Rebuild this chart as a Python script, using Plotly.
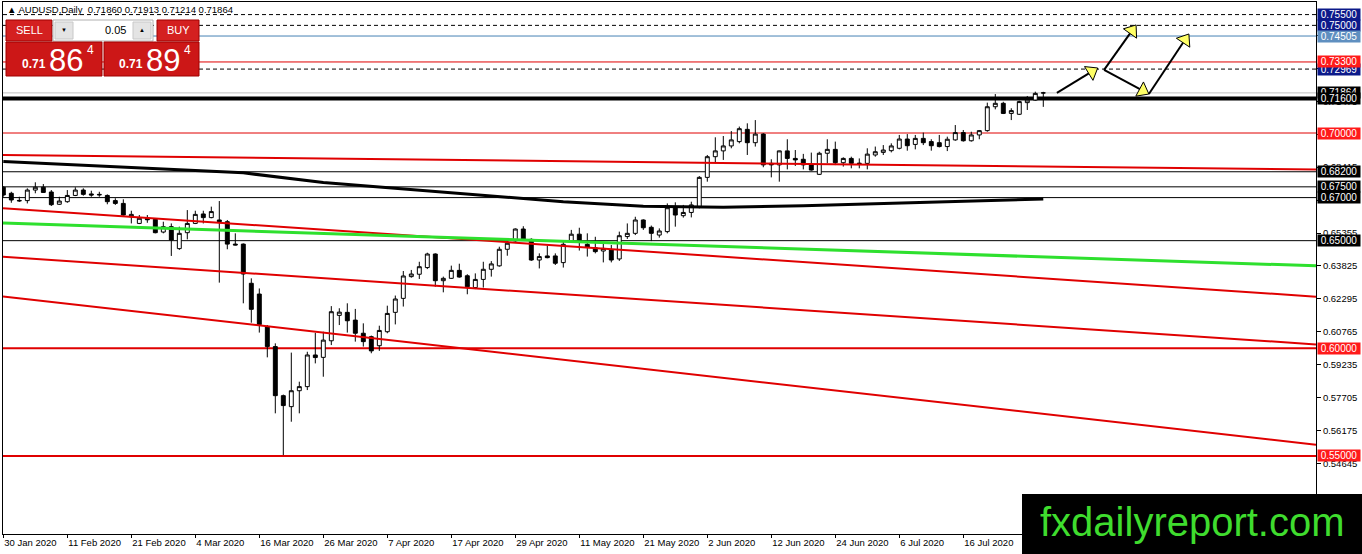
import math
import plotly.graph_objects as go

# AUDUSD daily candles, 30 Jan 2020 .. 30 Jul 2020
opens = [0.6748, 0.6720, 0.6687, 0.6686, 0.6735, 0.6748, 0.6726, 0.6669, 0.6681, 0.6710,
         0.6735, 0.6717, 0.6715, 0.6710, 0.6686, 0.6673, 0.6611, 0.6580, 0.6604, 0.6599,
         0.6540, 0.6565, 0.6463, 0.6537, 0.6580, 0.6624, 0.6607, 0.6596, 0.6588, 0.6484,
         0.6484, 0.6302, 0.6252, 0.6100, 0.6008, 0.5780, 0.5729, 0.5803, 0.5822, 0.5969,
         0.5958, 0.6035, 0.6153, 0.6167, 0.6131, 0.6070, 0.6054, 0.6012, 0.6077, 0.6167,
         0.6232, 0.6333, 0.6344, 0.6375, 0.6438, 0.6314, 0.6325, 0.6362, 0.6337, 0.6282,
         0.6320, 0.6367, 0.6383, 0.6460, 0.6499, 0.6554, 0.6506, 0.6410, 0.6429, 0.6429,
         0.6398, 0.6499, 0.6530, 0.6483, 0.6467, 0.6452, 0.6457, 0.6415, 0.6519, 0.6534,
         0.6596, 0.6562, 0.6526, 0.6542, 0.6658, 0.6616, 0.6631, 0.6655, 0.6794, 0.6890,
         0.6917, 0.6940, 0.6960, 0.7017, 0.6955, 0.6995, 0.6859, 0.6852, 0.6917, 0.6882,
         0.6878, 0.6852, 0.6808, 0.6906, 0.6924, 0.6862, 0.6882, 0.6860, 0.6859, 0.6898,
         0.6910, 0.6918, 0.6929, 0.6972, 0.6947, 0.6975, 0.6960, 0.6955, 0.6937, 0.6968,
         0.7002, 0.6964, 0.6991, 0.7011, 0.7122, 0.7138, 0.7091, 0.7087, 0.7141, 0.7153,
         0.7186]
highs = [0.6752, 0.6727, 0.6704, 0.6743, 0.6771, 0.6763, 0.6735, 0.6704, 0.6735, 0.6748,
         0.6743, 0.6732, 0.6727, 0.6715, 0.6697, 0.6692, 0.6639, 0.6619, 0.6619, 0.6604,
         0.6588, 0.6580, 0.6565, 0.6642, 0.6639, 0.6639, 0.6658, 0.6684, 0.6596, 0.6534,
         0.6487, 0.6325, 0.6278, 0.6108, 0.6023, 0.5785, 0.5980, 0.5845, 0.5984, 0.6072,
         0.6077, 0.6196, 0.6186, 0.6209, 0.6183, 0.6116, 0.6059, 0.6105, 0.6198, 0.6245,
         0.6359, 0.6364, 0.6402, 0.6444, 0.6441, 0.6333, 0.6384, 0.6393, 0.6344, 0.6348,
         0.6402, 0.6405, 0.6472, 0.6503, 0.6557, 0.6567, 0.6511, 0.6441, 0.6477, 0.6441,
         0.6503, 0.6550, 0.6560, 0.6534, 0.6518, 0.6488, 0.6480, 0.6542, 0.6580, 0.6611,
         0.6599, 0.6570, 0.6557, 0.6673, 0.6678, 0.6666, 0.6681, 0.6800, 0.6898, 0.6980,
         0.6986, 0.7009, 0.7030, 0.7045, 0.7060, 0.6999, 0.6878, 0.6918, 0.6971, 0.6921,
         0.6903, 0.6909, 0.6913, 0.6971, 0.6960, 0.6887, 0.6890, 0.6882, 0.6929, 0.6937,
         0.6944, 0.6952, 0.6991, 0.6995, 0.6991, 0.7002, 0.6971, 0.6991, 0.6983, 0.7037,
         0.7014, 0.7006, 0.7014, 0.7141, 0.7181, 0.7145, 0.7115, 0.7150, 0.7172, 0.7192,
         0.71913]
lows = [0.6704, 0.6676, 0.6680, 0.6673, 0.6720, 0.6723, 0.6661, 0.6666, 0.6676, 0.6707,
        0.6709, 0.6704, 0.6704, 0.6669, 0.6666, 0.6616, 0.6580, 0.6577, 0.6583, 0.6534,
        0.6534, 0.6429, 0.6457, 0.6506, 0.6577, 0.6580, 0.6604, 0.6305, 0.6460, 0.6478,
        0.6209, 0.6119, 0.6073, 0.5958, 0.5698, 0.5504, 0.5659, 0.5698, 0.5806, 0.5930,
        0.5868, 0.6015, 0.6108, 0.6073, 0.6031, 0.6008, 0.5977, 0.5988, 0.6070, 0.6111,
        0.6194, 0.6328, 0.6322, 0.6368, 0.6286, 0.6260, 0.6322, 0.6328, 0.6251, 0.6275,
        0.6282, 0.6333, 0.6379, 0.6430, 0.6495, 0.6500, 0.6406, 0.6371, 0.6418, 0.6387,
        0.6375, 0.6495, 0.6454, 0.6426, 0.6441, 0.6399, 0.6399, 0.6406, 0.6508, 0.6526,
        0.6550, 0.6498, 0.6514, 0.6534, 0.6565, 0.6607, 0.6608, 0.6650, 0.6774, 0.6859,
        0.6875, 0.6929, 0.6952, 0.6898, 0.6937, 0.6841, 0.6794, 0.6774, 0.6831, 0.6847,
        0.6831, 0.6825, 0.6805, 0.6859, 0.6851, 0.6844, 0.6836, 0.6836, 0.6831, 0.6890,
        0.6898, 0.6910, 0.6924, 0.6918, 0.6924, 0.6944, 0.6918, 0.6933, 0.6916, 0.6964,
        0.6960, 0.6960, 0.6971, 0.7006, 0.7110, 0.7088, 0.7060, 0.7084, 0.7107, 0.7150,
        0.71214]
closes = [0.6712, 0.6689, 0.6685, 0.6735, 0.6748, 0.6724, 0.6667, 0.6684, 0.6710, 0.6735,
          0.6715, 0.6712, 0.6713, 0.6681, 0.6673, 0.6619, 0.6622, 0.6604, 0.6597, 0.6537,
          0.6565, 0.6503, 0.6534, 0.6580, 0.6622, 0.6607, 0.6635, 0.6588, 0.6484, 0.6480,
          0.6345, 0.6181, 0.6110, 0.6008, 0.5780, 0.5734, 0.5803, 0.5822, 0.5969, 0.5957,
          0.6038, 0.6170, 0.6168, 0.6128, 0.6070, 0.6031, 0.5988, 0.6083, 0.6162, 0.6229,
          0.6336, 0.6345, 0.6379, 0.6438, 0.6314, 0.6325, 0.6362, 0.6331, 0.6286, 0.6320,
          0.6367, 0.6392, 0.6460, 0.6488, 0.6554, 0.6503, 0.6410, 0.6426, 0.6421, 0.6395,
          0.6483, 0.6530, 0.6495, 0.6469, 0.6449, 0.6464, 0.6410, 0.6523, 0.6534, 0.6596,
          0.6560, 0.6534, 0.6545, 0.6653, 0.6619, 0.6631, 0.6666, 0.6794, 0.6890, 0.6917,
          0.6940, 0.6968, 0.7020, 0.6955, 0.6995, 0.6852, 0.6852, 0.6917, 0.6882, 0.6875,
          0.6852, 0.6828, 0.6906, 0.6924, 0.6862, 0.6882, 0.6859, 0.6858, 0.6902, 0.6913,
          0.6921, 0.6940, 0.6972, 0.6941, 0.6975, 0.6955, 0.6941, 0.6937, 0.6971, 0.7002,
          0.6964, 0.6991, 0.7011, 0.7122, 0.7138, 0.7091, 0.7104, 0.7146, 0.7153, 0.7184,
          0.71864]

# date labels on the time axis (every 8th bar)
tick_pos = [0, 8, 16, 24, 32, 40, 48, 56, 64, 72, 80, 88, 96, 104, 112, 120]
tick_text = ["30 Jan 2020", "11 Feb 2020", "21 Feb 2020", "4 Mar 2020", "16 Mar 2020",
             "26 Mar 2020", "7 Apr 2020", "17 Apr 2020", "29 Apr 2020", "11 May 2020",
             "21 May 2020", "2 Jun 2020", "12 Jun 2020", "24 Jun 2020", "6 Jul 2020",
             "16 Jul 2020"]

# price scale ticks
price_ticks = [0.53115, 0.54645, 0.56175, 0.57705, 0.59235, 0.60765, 0.62295, 0.63825,
               0.65355, 0.66885, 0.68415, 0.69945, 0.71475, 0.73005, 0.74535]

# 200-day moving average, sampled every 10 bars
ma_idx = [0, 10, 20, 30, 40, 50, 60, 70, 80, 90, 100, 110, 120, 130]
ma_val = [0.6868, 0.6850, 0.6835, 0.6815, 0.6770, 0.6740, 0.6712, 0.6681, 0.6660,
          0.6655, 0.6662, 0.6673, 0.6684, 0.6693]

# trend lines: start price at left edge, end price at right edge
trend_red = [(0.6898, 0.6830), (0.6651, 0.6240), (0.6425, 0.6018), (0.6241, 0.5552)]
trend_green = (0.6582, 0.6383)

# horizontal levels: (price, colour, width, dash)
levels = [
    (0.75500, "black", 1, "4px,3px"),
    (0.75000, "black", 1, "4px,3px"),
    (0.74505, "#4682b4", 1, "solid"),
    (0.73300, "#e00000", 1, "solid"),
    (0.72969, "black", 1, "4px,3px"),
    (0.71864, "#c0c0c0", 1, "solid"),
    (0.71600, "black", 4, "solid"),
    (0.70000, "#e00000", 1, "solid"),
    (0.68200, "black", 1, "solid"),
    (0.67500, "black", 1, "solid"),
    (0.67000, "black", 1, "solid"),
    (0.65000, "black", 1, "solid"),
    (0.60000, "#e00000", 2, "solid"),
    (0.55000, "#e00000", 2, "solid"),
]

# price tags on the right scale: (price, background)
tags = [
    (0.75500, "#0c1a8a"), (0.75000, "#0c1a8a"), (0.74505, "#5f8fc0"),
    (0.72969, "#0c1a8a"), (0.73300, "#ff1a1a"),
    (0.71864, "black"), (0.71600, "black"),
    (0.70000, "#ff1a1a"),
    (0.68200, "black"),
    (0.67500, "black"), (0.67000, "black"), (0.65000, "black"),
    (0.60000, "#ff1a1a"), (0.55000, "#ff1a1a"),
]

# drawn arrows (bar index, price) start -> tip
arrows = [
    ((131.7, 0.7186), (136.8, 0.7302)),
    ((137.6, 0.7293), (141.6, 0.7502)),
    ((137.6, 0.7293), (143.2, 0.7181)),
    ((143.2, 0.7181), (148.2, 0.7460)),
]

X0, X1 = -0.04, 164.09
Y0, Y1 = 0.51375, 0.76085
W, H = 1362, 554
ML, MR, MT, MB = 3, 46, 2, 20
PX_PER_BAR = (W - ML - MR) / (X1 - X0)
PX_PER_PRICE = (H - MT - MB) / (Y1 - Y0)


def fx(x):
    return (x - ML) / (W - ML - MR)


def fy(y):
    return (H - MB - y) / (H - MT - MB)


fig = go.Figure()

for p0, p1 in trend_red:
    fig.add_trace(go.Scatter(x=[X0, X1], y=[p0, p1], mode="lines",
                             line=dict(color="#e00000", width=2), hoverinfo="skip"))
fig.add_trace(go.Scatter(x=[X0, X1], y=list(trend_green), mode="lines",
                         line=dict(color="#2ee02e", width=3), hoverinfo="skip"))
fig.add_trace(go.Scatter(x=ma_idx, y=ma_val, mode="lines",
                         line=dict(color="black", width=3), hoverinfo="skip"))

fig.add_trace(go.Candlestick(
    x=list(range(len(opens))), open=opens, high=highs, low=lows, close=closes,
    increasing=dict(fillcolor="white", line=dict(color="black", width=1)),
    decreasing=dict(fillcolor="black", line=dict(color="black", width=1)),
    whiskerwidth=0, hoverinfo="skip",
))

for (xa, ya), (xb, yb) in arrows:
    dx = (xb - xa) * PX_PER_BAR
    dy = -(yb - ya) * PX_PER_PRICE
    ln = math.hypot(dx, dy)
    ang = math.degrees(math.atan2(dx, -dy))
    back = 7.0 / ln
    hx = xb - (xb - xa) * back
    hy = yb - (yb - ya) * back
    fig.add_trace(go.Scatter(x=[xa, hx], y=[ya, hy], mode="lines",
                             line=dict(color="black", width=2), hoverinfo="skip"))
    fig.add_trace(go.Scatter(x=[hx], y=[hy], mode="markers",
                             marker=dict(symbol="triangle-up", size=14, angle=ang,
                                         color="#ffff66", line=dict(color="black", width=1)),
                             hoverinfo="skip"))

shapes = []
for price, col, wd, dash in levels:
    shapes.append(dict(type="line", xref="paper", yref="y", x0=0, x1=1, y0=price, y1=price,
                       line=dict(color=col, width=wd, dash=dash), layer="below"))

# one-click trading panel
red = "#cc1717"
shapes += [
    dict(type="rect", xref="paper", yref="paper", x0=fx(6), x1=fx(52), y0=fy(41), y1=fy(20),
         fillcolor="#d42020", line=dict(color="#a00000", width=1), layer="above"),
    dict(type="rect", xref="paper", yref="paper", x0=fx(53), x1=fx(153), y0=fy(41), y1=fy(20),
         fillcolor="white", line=dict(color="#b0b0b0", width=1), layer="above"),
    dict(type="rect", xref="paper", yref="paper", x0=fx(55), x1=fx(73), y0=fy(39), y1=fy(22),
         fillcolor="#e4e4e4", line=dict(color="#c8c8c8", width=1), layer="above"),
    dict(type="rect", xref="paper", yref="paper", x0=fx(133), x1=fx(151), y0=fy(39), y1=fy(22),
         fillcolor="#e4e4e4", line=dict(color="#c8c8c8", width=1), layer="above"),
    dict(type="rect", xref="paper", yref="paper", x0=fx(157), x1=fx(199), y0=fy(41), y1=fy(20),
         fillcolor="#d42020", line=dict(color="#a00000", width=1), layer="above"),
    dict(type="rect", xref="paper", yref="paper", x0=fx(6), x1=fx(102), y0=fy(76), y1=fy(42),
         fillcolor=red, line=dict(color="#a00000", width=1), layer="above"),
    dict(type="rect", xref="paper", yref="paper", x0=fx(104), x1=fx(199), y0=fy(76), y1=fy(42),
         fillcolor=red, line=dict(color="#a00000", width=1), layer="above"),
    # watermark box
    dict(type="rect", xref="paper", yref="paper", x0=fx(1022), x1=fx(1362), y0=fy(554), y1=fy(494),
         fillcolor="black", line=dict(width=0), layer="above"),
]

ann = []
for price, bg in tags:
    ann.append(dict(xref="paper", yref="y", x=1, y=price, xanchor="left", xshift=1,
                    text=f"{price:.5f}", showarrow=False, bgcolor=bg, width=42, height=11,
                    borderpad=0, align="center", font=dict(color="white", size=10)))


def txt(x, y, t, size, color="white", anchor="left", bold=False):
    if bold:
        t = f"<b>{t}</b>"
    ann.append(dict(xref="paper", yref="paper", x=fx(x), y=fy(y), xanchor=anchor,
                    yanchor="middle", text=t, showarrow=False,
                    font=dict(color=color, size=size)))


txt(5, 9, "▲ AUDUSD,Daily  0.71860 0.71913 0.71214 0.71864", 9.5, color="black")
txt(29, 30, "SELL", 11, anchor="center")
txt(178, 30, "BUY", 11, anchor="center")
txt(64, 30, "▼", 6, color="black", anchor="center")
txt(142, 30, "▲", 6, color="black", anchor="center")
txt(128, 30, "0.05", 11, color="black", anchor="right")
txt(20, 64, "0.71", 12, bold=True)
txt(47, 60, "86", 31)
txt(85, 50, "4", 12)
txt(117, 64, "0.71", 12, bold=True)
txt(144, 60, "89", 31)
txt(182, 50, "4", 12)
txt(1192, 522, "fxdailyreport.com", 40, color="#3fdc2e", anchor="center")

fig.update_layout(
    width=W, height=H, autosize=False,
    margin=dict(l=ML, r=MR, t=MT, b=MB, pad=0),
    paper_bgcolor="white", plot_bgcolor="white",
    font=dict(family="Liberation Sans", size=9.5, color="black"),
    showlegend=False,
    shapes=shapes, annotations=ann,
    xaxis=dict(range=[X0, X1], rangeslider=dict(visible=False), showgrid=False,
               zeroline=False, tickvals=tick_pos, ticktext=tick_text,
               ticks="outside", ticklen=3, tickcolor="black",
               ticklabelposition="outside right",
               showline=True, linecolor="black", linewidth=1, mirror=True,
               tickfont=dict(size=9.5, color="black")),
    yaxis=dict(range=[Y0, Y1], side="right", showgrid=False, zeroline=False,
               tickvals=price_ticks, tickformat=".5f", ticks="outside", ticklen=4,
               tickcolor="black", showline=True, linecolor="black", linewidth=1,
               mirror=True, tickfont=dict(size=9.5, color="black")),
)

fig.write_html("out.html", config={"displayModeBar": False},
               post_script="document.body.style.margin='0';document.body.style.overflow='hidden';")
